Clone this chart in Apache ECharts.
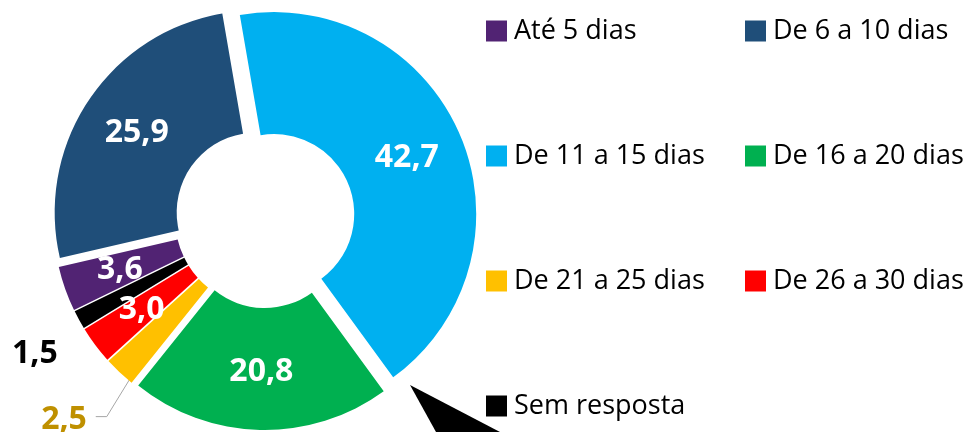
<!DOCTYPE html>
<html lang="pt">
<head>
<meta charset="utf-8">
<script src="https://cdn.jsdelivr.net/npm/echarts@6/dist/echarts.min.js"></script>
</head>
<body style="margin:0;background:#fff">
<div id="container" style="width:972px;height:432px"></div>
<script>
// dados
var categories = ['Até 5 dias', 'De 6 a 10 dias', 'De 11 a 15 dias', 'De 16 a 20 dias', 'De 21 a 25 dias', 'De 26 a 30 dias', 'Sem resposta'];
var values = [3.6, 25.9, 42.7, 20.8, 2.5, 3.0, 1.5];
var colors = ['#512373', '#1F4E79', '#00B0F0', '#00B050', '#FFC000', '#FF0000', '#000000'];

var myChart = echarts.init(document.getElementById('container'));

function fmt(v) {
    return v.toFixed(1).replace('.', ',');
}

var pieData = categories.map(function (name, i) {
    var item = {
        name: name,
        value: values[i],
        selected: true,
        itemStyle: { color: colors[i] }
    };
    // rótulos de fora: 21 a 25 e sem resposta
    if (i === 4) {
        item.label = { position: 'outside', color: '#BF9000' };
        item.labelLine = { show: true, length: 55, length2: 10, lineStyle: { color: '#A6A6A6', width: 1 } };
    }
    if (i === 6) {
        item.label = { position: 'outside', color: '#000' };
        item.labelLine = { show: false, length: 30, length2: 0 };
    }
    return item;
});

var legendText = { fontFamily: 'Open Sans', fontSize: 27, color: '#000', lineHeight: 30, padding: [0, 0, 0, 2] };

var option = {
    animation: false,
    legend: [{
        data: [categories[0], categories[2], categories[4], categories[6]],
        orient: 'vertical',
        left: 486,
        top: 16,
        padding: 0,
        itemWidth: 21,
        itemHeight: 21,
        itemGap: 95,
        icon: 'rect',
        selectedMode: false,
        textStyle: legendText
    }, {
        data: [categories[1], categories[3], categories[5]],
        orient: 'vertical',
        left: 745,
        top: 16,
        padding: 0,
        itemWidth: 21,
        itemHeight: 21,
        itemGap: 95,
        icon: 'rect',
        selectedMode: false,
        textStyle: legendText
    }],
    series: [{
        type: 'pie',
        center: [265, 218],
        radius: [80, 202],
        startAngle: 206,
        clockwise: true,
        selectedMode: 'multiple',
        selectedOffset: 10,
        avoidLabelOverlap: false,
        emphasis: { disabled: true },
        label: {
            show: true,
            position: 'inside',
            fontFamily: 'Open Sans',
            fontWeight: 'bold',
            fontSize: 32,
            color: '#fff',
            formatter: function (p) { return fmt(p.value); }
        },
        labelLine: { show: false },
        labelLayout: function (p) {
            var pts = p.labelLinePoints;
            if (p.dataIndex === 4 && pts) {
                // linha de chamada parte do meio da fatia, como no original
                var dx = pts[1][0] - pts[0][0], dy = pts[1][1] - pts[0][1];
                var len = Math.sqrt(dx * dx + dy * dy);
                var sx = pts[0][0] - dx / len * 60, sy = pts[0][1] - dy / len * 60;
                var ey = sy + 88;
                return {
                    dx: 20, dy: 8,
                    labelLinePoints: [[sx, sy], [sx - 54, ey], [sx - 65, ey]]
                };
            }
            if (p.dataIndex === 6) {
                return { dx: 10, dy: 20 };
            }
        },
        data: pieData
    }],
    graphic: [{
        type: 'polygon',
        shape: { points: [[410, 385], [500, 432], [436, 432]] },
        style: { fill: '#000' }
    }]
};

myChart.setOption(option);
</script>
</body>
</html>
